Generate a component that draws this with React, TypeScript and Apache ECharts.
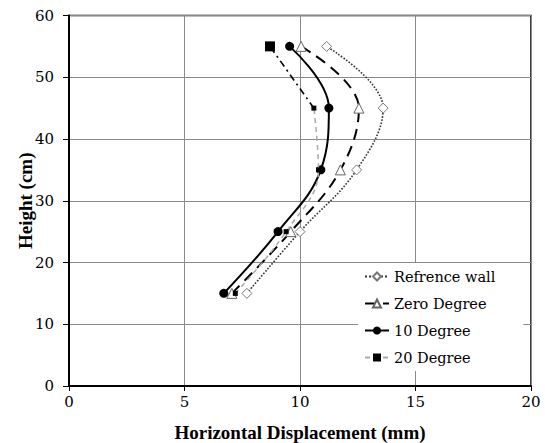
import React, { useEffect, useRef } from "react";
import * as echarts from "echarts";

const heights = [15, 25, 35, 45, 55];
const refWall = [7.7, 10.0, 12.45, 13.6, 11.15];
const zeroDeg = [7.05, 9.6, 11.75, 12.55, 10.05];
const tenDeg = [6.7, 9.05, 10.9, 11.25, 9.55];
const twentyDeg = [7.2, 9.4, 10.8, 10.6, 8.7];
const seriesNames = ["Refrence wall", "Zero Degree", "10 Degree", "20 Degree"];
const xTicks = [0, 5, 10, 15, 20];
const yTicks = [0, 10, 20, 30, 40, 50, 60];

const FONT = "Liberation Serif";
const FONT_REG = "DejaVu Serif";

const pairs = (xs: number[]) => xs.map((x, i) => [x, heights[i]]);

export default function App() {
  const ref = useRef<HTMLDivElement>(null);
  useEffect(() => {
    if (!ref.current) return;
    const chart = echarts.init(ref.current, null, { renderer: "svg" });
    const tw = pairs(twentyDeg);
    chart.setOption({
      animation: false,
      backgroundColor: "#fff",
      textStyle: { fontFamily: FONT_REG },
      grid: {
        left: 69,
        right: 14,
        top: 15.5,
        bottom: 57,
        show: true,
        borderColor: "#000",
        borderWidth: 1.5,
        outerBoundsMode: "none",
        containLabel: false,
      },
      legend: {
        data: seriesNames,
        orient: "vertical",
        left: 358,
        top: 263,
        itemWidth: 24,
        itemHeight: 10,
        itemGap: 12,
        padding: [6, 28, 6, 6],
        backgroundColor: "#fff",
        textStyle: { fontFamily: FONT_REG, fontWeight: "normal", fontSize: 14.5, color: "#000" },
      },
      xAxis: {
        type: "value",
        min: xTicks[0],
        max: xTicks[xTicks.length - 1],
        interval: 5,
        name: "Horizontal Displacement (mm)",
        nameLocation: "middle",
        nameGap: 37,
        nameTextStyle: { fontFamily: FONT, fontSize: 19, fontWeight: "bold", color: "#000" },
        axisLine: { lineStyle: { color: "#000", width: 2 } },
        axisTick: { show: true, inside: false, length: 5, lineStyle: { color: "#000" } },
        axisLabel: { fontFamily: FONT_REG, fontSize: 15, color: "#000", margin: 8 },
        splitLine: { show: true, lineStyle: { color: "#8a8a8a", width: 1 } },
      },
      yAxis: {
        type: "value",
        min: yTicks[0],
        max: yTicks[yTicks.length - 1],
        interval: 10,
        name: "Height (cm)",
        nameLocation: "middle",
        nameGap: 34,
        nameMoveOverlap: false,
        nameRotate: 90,
        nameTextStyle: { fontFamily: FONT, fontSize: 19, fontWeight: "bold", color: "#000" },
        axisLine: { show: true, lineStyle: { color: "#000", width: 2 } },
        axisTick: { show: true, inside: false, length: 6, lineStyle: { color: "#000" } },
        axisLabel: { fontFamily: FONT_REG, fontSize: 15, color: "#000", margin: 15 },
        splitLine: { show: true, lineStyle: { color: "#8a8a8a", width: 1 } },
      },
      series: [
        {
          name: seriesNames[0],
          type: "line",
          data: pairs(refWall),
          smooth: 0.4,
          symbol: "diamond",
          symbolSize: 10,
          lineStyle: { color: "#333", width: 1.6, type: "dotted" },
          itemStyle: { color: "#fff", borderColor: "#777", borderWidth: 1 },
          z: 2,
        },
        {
          name: seriesNames[1],
          type: "line",
          data: pairs(zeroDeg),
          smooth: 0.4,
          symbol: "triangle",
          symbolSize: 10,
          lineStyle: { color: "#000", width: 2, type: [11, 7] },
          itemStyle: { color: "#fff", borderColor: "#666", borderWidth: 1 },
          z: 3,
        },
        {
          name: seriesNames[2],
          type: "line",
          data: pairs(tenDeg),
          smooth: 0.4,
          symbol: "circle",
          symbolSize: 9,
          lineStyle: { color: "#000", width: 2 },
          itemStyle: { color: "#000" },
          z: 4,
        },
        {
          name: seriesNames[3],
          type: "line",
          data: tw.slice(0, 4),
          smooth: 0.4,
          symbol: "rect",
          symbolSize: 5,
          lineStyle: { color: "#aaa", width: 1.5, type: [5, 4] },
          itemStyle: { color: "#000" },
          z: 5,
        },
        {
          name: "20 Degree upper",
          type: "line",
          data: [
            { value: tw[3], symbol: "none" },
            { value: tw[4], symbol: "rect", symbolSize: 10 },
          ],
          lineStyle: { color: "#000", width: 1.6, type: [7, 4, 2, 4] },
          itemStyle: { color: "#000" },
          z: 5,
        },
      ],
    });
    return () => chart.dispose();
  }, []);
  return <div ref={ref} style={{ width: 545, height: 443, position: "absolute", left: 0, top: 0 }} />;
}
